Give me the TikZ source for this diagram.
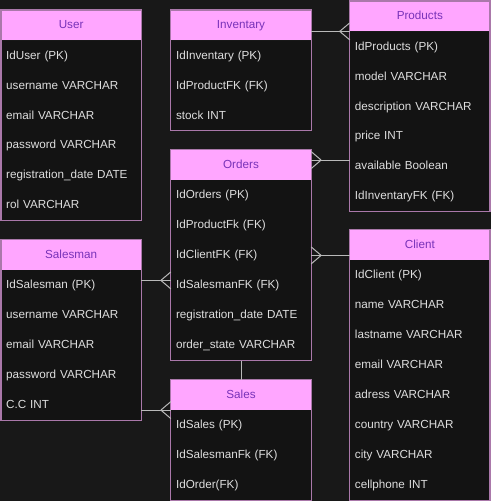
\documentclass[tikz,border=0pt]{standalone}
\usepackage{fontspec}
\setmainfont{Liberation Sans}
\usetikzlibrary{positioning, calc, decorations.markings}

\definecolor{bgdark}{RGB}{24,24,24}
\definecolor{rowfill}{RGB}{19,19,19}
\definecolor{headpink}{RGB}{255,166,255}
\definecolor{headtext}{RGB}{120,50,185}
\definecolor{rowtext}{RGB}{222,222,222}
\definecolor{framepurple}{RGB}{170,120,170}
\definecolor{linkgray}{RGB}{185,185,185}

\tikzset{
    tabhead/.style={anchor=north west, fill=headpink, text=headtext, minimum width=140pt,
        minimum height=30pt, inner sep=0pt, text height=8pt, text depth=1pt},
    tabrow/.style={anchor=north west, fill=rowfill, text=rowtext, text width=130pt, align=left,
        inner xsep=5pt, inner ysep=0pt, minimum height=30pt, text height=8pt, text depth=1pt},
    tabframe/.style={draw=framepurple, line width=1.2pt},
    link/.style={draw=linkgray, line width=1pt},
    manyend/.style={postaction={decorate, decoration={markings, mark=at position 1 with
        {\draw[link] (-10pt,0) -- (0,8.5pt) (-10pt,0) -- (0,-8.5pt);}}}},
    manystart/.style={postaction={decorate, decoration={markings, mark=at position 0 with
        {\draw[link] (10pt,0) -- (0,8.5pt) (10pt,0) -- (0,-8.5pt);}}}}
}

\begin{document}
\begin{tikzpicture}[x=1pt, y=-1pt, font=\fontsize{11.7}{14}\selectfont]
    \fill[bgdark] (0,0) rectangle (491,501);

    % User
    \node[tabhead] (user) at (1,10) {User};
    \foreach \t [count=\i] in {IdUser (PK), username VARCHAR, email VARCHAR, password VARCHAR,
            registration\_date DATE, rol VARCHAR}
        \node[tabrow] (user-\i) at ([yshift={-(\i-1)*30}]user.south west) {\t};
    \draw[tabframe] (user.north west) rectangle (user-6.south east);

    % Inventary
    \node[tabhead] (inv) at (171,10) {Inventary};
    \foreach \t [count=\i] in {IdInventary (PK), IdProductFK (FK), stock INT}
        \node[tabrow] (inv-\i) at ([yshift={-(\i-1)*30}]inv.south west) {\t};
    \draw[tabframe] (inv.north west) rectangle (inv-3.south east);

    % Products
    \node[tabhead] (prod) at (350,1) {Products};
    \foreach \t [count=\i] in {IdProducts (PK), model VARCHAR, description VARCHAR, price INT,
            available Boolean, IdInventaryFK (FK)}
        \node[tabrow] (prod-\i) at ([yshift={-(\i-1)*30}]prod.south west) {\t};
    \draw[tabframe] (prod.north west) rectangle (prod-6.south east);

    % Orders
    \node[tabhead] (ord) at (171,150) {Orders};
    \foreach \t [count=\i] in {IdOrders (PK), IdProductFk (FK), IdClientFK (FK), IdSalesmanFK (FK),
            registration\_date DATE, order\_state VARCHAR}
        \node[tabrow] (ord-\i) at ([yshift={-(\i-1)*30}]ord.south west) {\t};
    \draw[tabframe] (ord.north west) rectangle (ord-6.south east);

    % Salesman
    \node[tabhead] (salm) at (1,240) {Salesman};
    \foreach \t [count=\i] in {IdSalesman (PK), username VARCHAR, email VARCHAR, password VARCHAR, C.C INT}
        \node[tabrow] (salm-\i) at ([yshift={-(\i-1)*30}]salm.south west) {\t};
    \draw[tabframe] (salm.north west) rectangle (salm-5.south east);

    % Client
    \node[tabhead] (cli) at (350,230) {Client};
    \foreach \t [count=\i] in {IdClient (PK), name VARCHAR, lastname VARCHAR, email VARCHAR,
            adress VARCHAR, country VARCHAR, city VARCHAR, cellphone INT}
        \node[tabrow] (cli-\i) at ([yshift={-(\i-1)*30}]cli.south west) {\t};
    \draw[tabframe] (cli.north west) rectangle (cli-8.south east);

    % Sales
    \node[tabhead] (sale) at (171,380) {Sales};
    \foreach \t [count=\i] in {IdSales (PK), IdSalesmanFk (FK), IdOrder(FK)}
        \node[tabrow] (sale-\i) at ([yshift={-(\i-1)*30}]sale.south west) {\t};
    \draw[tabframe] (sale.north west) rectangle (sale-3.south east);

    % relations
    \draw[link, manyend] (inv.east |- prod.south west) -- (prod.south west);
    \draw[link, manystart] ($(ord.east)+(0,-5)$) -- ($(prod.west |- ord.east)+(0,-5)$);
    \draw[link, manystart] (ord-3.east) -- (cli.west |- ord-3.east);
    \draw[link, manyend] ($(salm-1.east)+(0,-5)$) -- ($(ord-4.west)+(0,-5)$);
    \draw[link, manyend] (salm.east |- sale.south west) -- (sale.south west);
    \draw[link] (ord-6.south) -- (sale.north);
\end{tikzpicture}
\end{document}
